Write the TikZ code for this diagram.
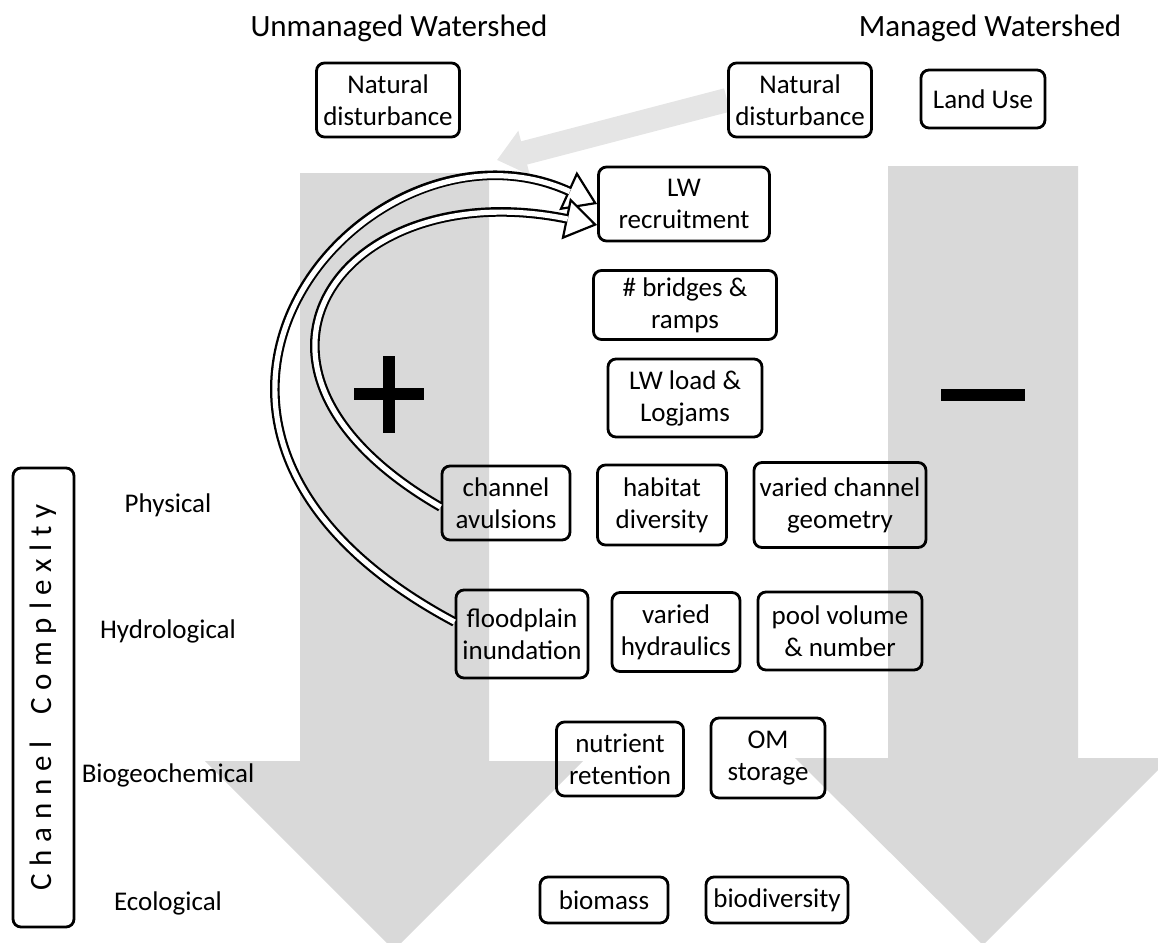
\documentclass[tikz,border=0pt]{standalone}
\usepackage{fontspec}
\setmainfont{Carlito}
\newfontfamily\spacedfont{Carlito}[LetterSpace=25]
\usetikzlibrary{arrows.meta,backgrounds}

\tikzset{
  box/.style={draw, line width=1.4pt, rounded corners=4pt, align=center, inner sep=1pt, minimum height=37pt, font=\fontsize{13.5}{16}\selectfont},
  level/.style={font=\fontsize{13.5}{16}\selectfont},
  title/.style={font=\fontsize{15.5}{18}\selectfont},
  bigarrow/.style={fill=black!15},
  hollowout/.style={line width=4.8pt, -{Triangle[length=16pt, width=21pt, line width=1.1pt, fill=white]}},
  hollowin/.style={line width=2.6pt, white, shorten >=15pt}
}

\begin{document}
\begin{tikzpicture}[x=0.5pt, y=-0.5pt]
\useasboundingbox (0,0) rectangle (1158,943);

% headings
\node[title] (unman) at (399,28) {Unmanaged Watershed};
\node[title] (man) at (990,28) {Managed Watershed};

% drivers
\node[box, minimum width=71.5pt] (nd1) at (388,100) {Natural\\disturbance};
\node[box, minimum width=71.5pt] (nd2) at (800,100) {Natural\\disturbance};
\node[box, minimum width=62pt, minimum height=29pt] (lu) at (983,99) {Land Use};

% wood
\node[box, minimum width=85.5pt] (lw) at (684,204) {LW\\recruitment};
\node[box, minimum width=91.5pt, minimum height=34.5pt] (br) at (685,305) {\# bridges \&\\ramps};
\node[box, minimum width=77pt, minimum height=39pt] (ll) at (685,398) {LW load \&\\Logjams};

% physical
\node[box, minimum width=64pt] (ca) at (506,503) {channel\\avulsions};
\node[box, minimum width=64.5pt, minimum height=40pt] (hd) at (662,505) {habitat\\diversity};
\node[box, minimum width=86pt, minimum height=42.5pt] (vg) at (840,505) {varied channel\\geometry};

% hydrological
\node[box, minimum width=66pt, minimum height=44pt] (fi) at (522,634) {floodplain\\inundation};
\node[box, minimum width=64pt, minimum height=39.5pt] (vh) at (676,632) {varied\\hydraulics};
\node[box, minimum width=82pt, minimum height=39pt] (pv) at (840,631) {pool volume\\\& number};

% biogeochemical
\node[box, minimum width=63.5pt] (nr) at (620,759) {nutrient\\retention};
\node[box, minimum width=57pt, minimum height=40pt] (om) at (768,758) {OM\\storage};

% ecological
\node[box, minimum width=64pt, minimum height=23pt] (bm) at (604,900) {biomass};
\node[box, minimum width=71pt, minimum height=23pt] (bd) at (777,900) {biodiversity};

% levels
\node[level] (phys) at (168,505) {Physical};
\node[level] (hydro) at (168,631) {Hydrological};
\node[level] (bgc) at (168,775) {Biogeochemical};
\node[level] (eco) at (168,903) {Ecological};

\node[draw, line width=1.4pt, rounded corners=4pt, rotate=90, minimum width=229.5pt, minimum height=30.5pt, font=\spacedfont\fontsize{15.5}{18}\selectfont] (cc) at (43.5,697.5) {Channel\hspace{6pt} Complexlty};

% grey arrows behind
\begin{pgfonlayer}{background}
\fill[bigarrow] (300,173) -- (489,173) -- (489,761) -- (583,761) -- (394,950) -- (205,761) -- (300,761) -- cycle;
\fill[bigarrow] (888,166) -- (1078,166) -- (1078,758) -- (1170,758) -- (983,945) -- (795,758) -- (888,758) -- cycle;
\coordinate (dtip) at (497,160);
\draw[black!10, line width=12pt, -{Triangle[length=14pt, width=22pt]}] (nd2.west) -- (dtip);
\end{pgfonlayer}

% plus and minus
\draw[line width=6pt] (354,394) -- (424,394) (389,356) -- (389,433);
\draw[line width=6pt] (941,395) -- (1025,395);

% feedback arrows
\draw[hollowout] ([yshift=6pt]fi.west) .. controls (85,425) and (368,100) .. (lw.west);
\draw[hollowin] ([yshift=6pt]fi.west) .. controls (85,425) and (368,100) .. (lw.west);
\draw[hollowout] ([yshift=-2pt]ca.west) .. controls (198,367) and (343,173) .. ([yshift=-10.5pt]lw.west);
\draw[hollowin] ([yshift=-2pt]ca.west) .. controls (198,367) and (343,173) .. ([yshift=-10.5pt]lw.west);
\end{tikzpicture}
\end{document}
